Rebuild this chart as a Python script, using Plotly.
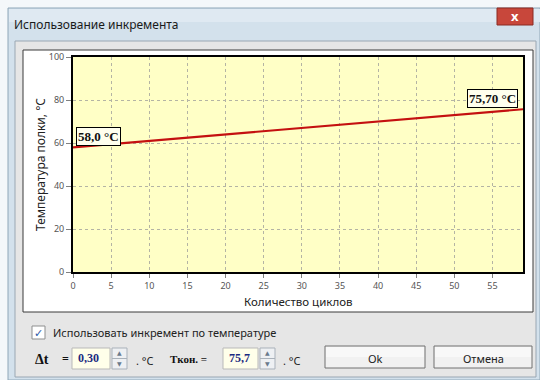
import plotly.graph_objects as go

# ---- data ----
cycles = [0, 59]
temps = [58.0, 75.7]
start_label = "58,0 °C"
end_label = "75,70 °C"
x_ticks = [0, 5, 10, 15, 20, 25, 30, 35, 40, 45, 50, 55]
y_ticks = [0, 20, 40, 60, 80, 100]
x_title = "Количество циклов"
y_title = "Температура полки, °C"
window_title = "Использование инкремента"
checkbox_text = "Использовать инкремент по температуре"
dt_value = "0,30"
tend_value = "75,7"

W, H = 540, 380
UI = "Noto Sans, DejaVu Sans, sans-serif"
SERIF = "Liberation Serif, DejaVu Serif, serif"


def px(x):
    return x / W


def py(y):
    return 1 - y / H


shapes = []


def rect(x0, y0, x1, y1, fill, line=None, lw=1, layer="below"):
    shapes.append(dict(type="rect", xref="paper", yref="paper",
                       x0=px(x0), x1=px(x1), y0=py(y1), y1=py(y0),
                       fillcolor=fill,
                       line=dict(color=line or fill, width=lw if line else 0),
                       layer=layer))


def seg(x0, y0, x1, y1, color, lw=1, layer="below"):
    shapes.append(dict(type="line", xref="paper", yref="paper",
                       x0=px(x0), x1=px(x1), y0=py(y0), y1=py(y1),
                       line=dict(color=color, width=lw), layer=layer))


annotations = []


def text(x, y, s, size=11, color="#111", font=UI, xanchor="left", bold=False):
    if bold:
        s = "<b>" + s + "</b>"
    annotations.append(dict(xref="paper", yref="paper", x=px(x), y=py(y),
                            text=s, showarrow=False, xanchor=xanchor, yanchor="middle",
                            font=dict(family=font, size=size, color=color)))


# window frame (aero glass)
rect(0, 0, 540, 380, "#f4f7fa")
rect(8, 8, 540, 380, "#d3e1ec", "#8fa6b8")
rect(9, 9, 540, 22, "#dfe9f2")
# dialog body
rect(15, 41, 536, 377, "#e6e6e6", "#9aa7b3")
# chart panel
rect(23, 50, 533, 312, "#ffffff", "#3a3a3a")
# plot background
rect(73, 57, 523, 272, "#ffffc6")
# close button
rect(497, 8, 533, 25, "#c8473b", "#8a2a22")
text(515, 16, "x", size=13, color="#ffffff", xanchor="center", bold=True)
# window title
text(12, 25, window_title, size=12, color="#1a1a1a")

# checkbox
rect(32, 326, 45, 339, "#ffffff", "#8e8f8f")
text(38.5, 332, "✓", size=11, color="#2b5aa8", xanchor="center", bold=True)
text(51, 332, checkbox_text, size=11, color="#222")

# bottom row
text(33, 359, "Δt", size=14, color="#111", font=SERIF, bold=True)
text(60, 359, "=", size=12, color="#111", font=SERIF, bold=True)
rect(72, 348, 110, 369, "#ffffea", "#b9b9b9")
text(76, 358, dt_value, size=12, color="#1a2a80", font=SERIF, bold=True)
rect(112, 348, 127, 369, "#eef0f3", "#a9b1ba")
seg(112, 358.5, 127, 358.5, "#a9b1ba")
text(119.5, 353, "▲", size=6, color="#6a7a8c", xanchor="center")
text(119.5, 364, "▼", size=6, color="#6a7a8c", xanchor="center")
text(134, 360, ". °C", size=11, color="#222")

text(168, 359, "Tкон. =", size=11, color="#111", font=SERIF, bold=True)
rect(223, 348, 258, 369, "#ffffea", "#b9b9b9")
text(227, 358, tend_value, size=12, color="#1a2a80", font=SERIF, bold=True)
rect(260, 348, 275, 369, "#eef0f3", "#a9b1ba")
seg(260, 358.5, 275, 358.5, "#a9b1ba")
text(267.5, 353, "▲", size=6, color="#6a7a8c", xanchor="center")
text(267.5, 364, "▼", size=6, color="#6a7a8c", xanchor="center")
text(281, 360, ". °C", size=11, color="#222")

# buttons
rect(325, 346, 425, 368, "#f1f1f1", "#707070")
rect(326, 347, 424, 357, "#f8f8f8")
text(375, 358, "Ok", size=11, color="#222", xanchor="center")
rect(434, 346, 532, 368, "#f1f1f1", "#707070")
rect(435, 347, 531, 357, "#f8f8f8")
text(483, 358, "Отмена", size=11, color="#222", xanchor="center")

# axis titles
text(298, 301, x_title, size=11.5, color="#222", xanchor="center")
annotations.append(dict(xref="paper", yref="paper", x=px(40), y=py(165), text=y_title,
                        showarrow=False, textangle=-90, xanchor="center", yanchor="middle",
                        font=dict(family=UI, size=12, color="#222")))

# value labels on the line
annotations.append(dict(x=cycles[0], y=temps[0], xref="x", yref="y", text="<b>" + start_label + "</b>",
                        showarrow=False, xanchor="left", yanchor="bottom", xshift=3, yshift=1,
                        bgcolor="#ffffee", bordercolor="#000000", borderwidth=1, borderpad=1,
                        font=dict(family=SERIF, size=13, color="#111")))
annotations.append(dict(x=cycles[-1], y=temps[-1], xref="x", yref="y", text="<b>" + end_label + "</b>",
                        showarrow=False, xanchor="right", yanchor="bottom", xshift=-5, yshift=1,
                        bgcolor="#ffffee", bordercolor="#000000", borderwidth=1, borderpad=1,
                        font=dict(family=SERIF, size=13, color="#111")))

fig = go.Figure()
fig.add_trace(go.Scatter(x=cycles, y=temps, mode="lines",
                         line=dict(color="#c41010", width=2.2), hoverinfo="skip"))

fig.update_layout(
    width=W, height=H,
    margin=dict(l=0, r=0, t=0, b=0),
    paper_bgcolor="#e6e6e6",
    plot_bgcolor="rgba(0,0,0,0)",
    showlegend=False,
    shapes=shapes,
    annotations=annotations,
    xaxis=dict(domain=[px(73), px(523)], range=[0, 59], tickvals=x_ticks,
               showgrid=True, gridcolor="#b4b4a4", griddash="dot", gridwidth=1,
               showline=True, linecolor="#000", linewidth=2, mirror=True,
               ticks="outside", ticklen=4, tickcolor="#808080",
               tickfont=dict(family=UI, size=9, color="#555"), zeroline=False,
               automargin=False),
    yaxis=dict(domain=[py(272), py(57)], range=[0, 100], tickvals=y_ticks,
               showgrid=True, gridcolor="#b4b4a4", griddash="dot", gridwidth=1,
               showline=True, linecolor="#000", linewidth=2, mirror=True,
               ticks="outside", ticklen=5, tickcolor="#808080",
               tickfont=dict(family=UI, size=9, color="#555"), zeroline=False,
               automargin=False),
)

fig.write_html("out.html", config={"displayModeBar": False},
               post_script="document.body.style.margin='0';document.body.style.overflow='hidden';")
